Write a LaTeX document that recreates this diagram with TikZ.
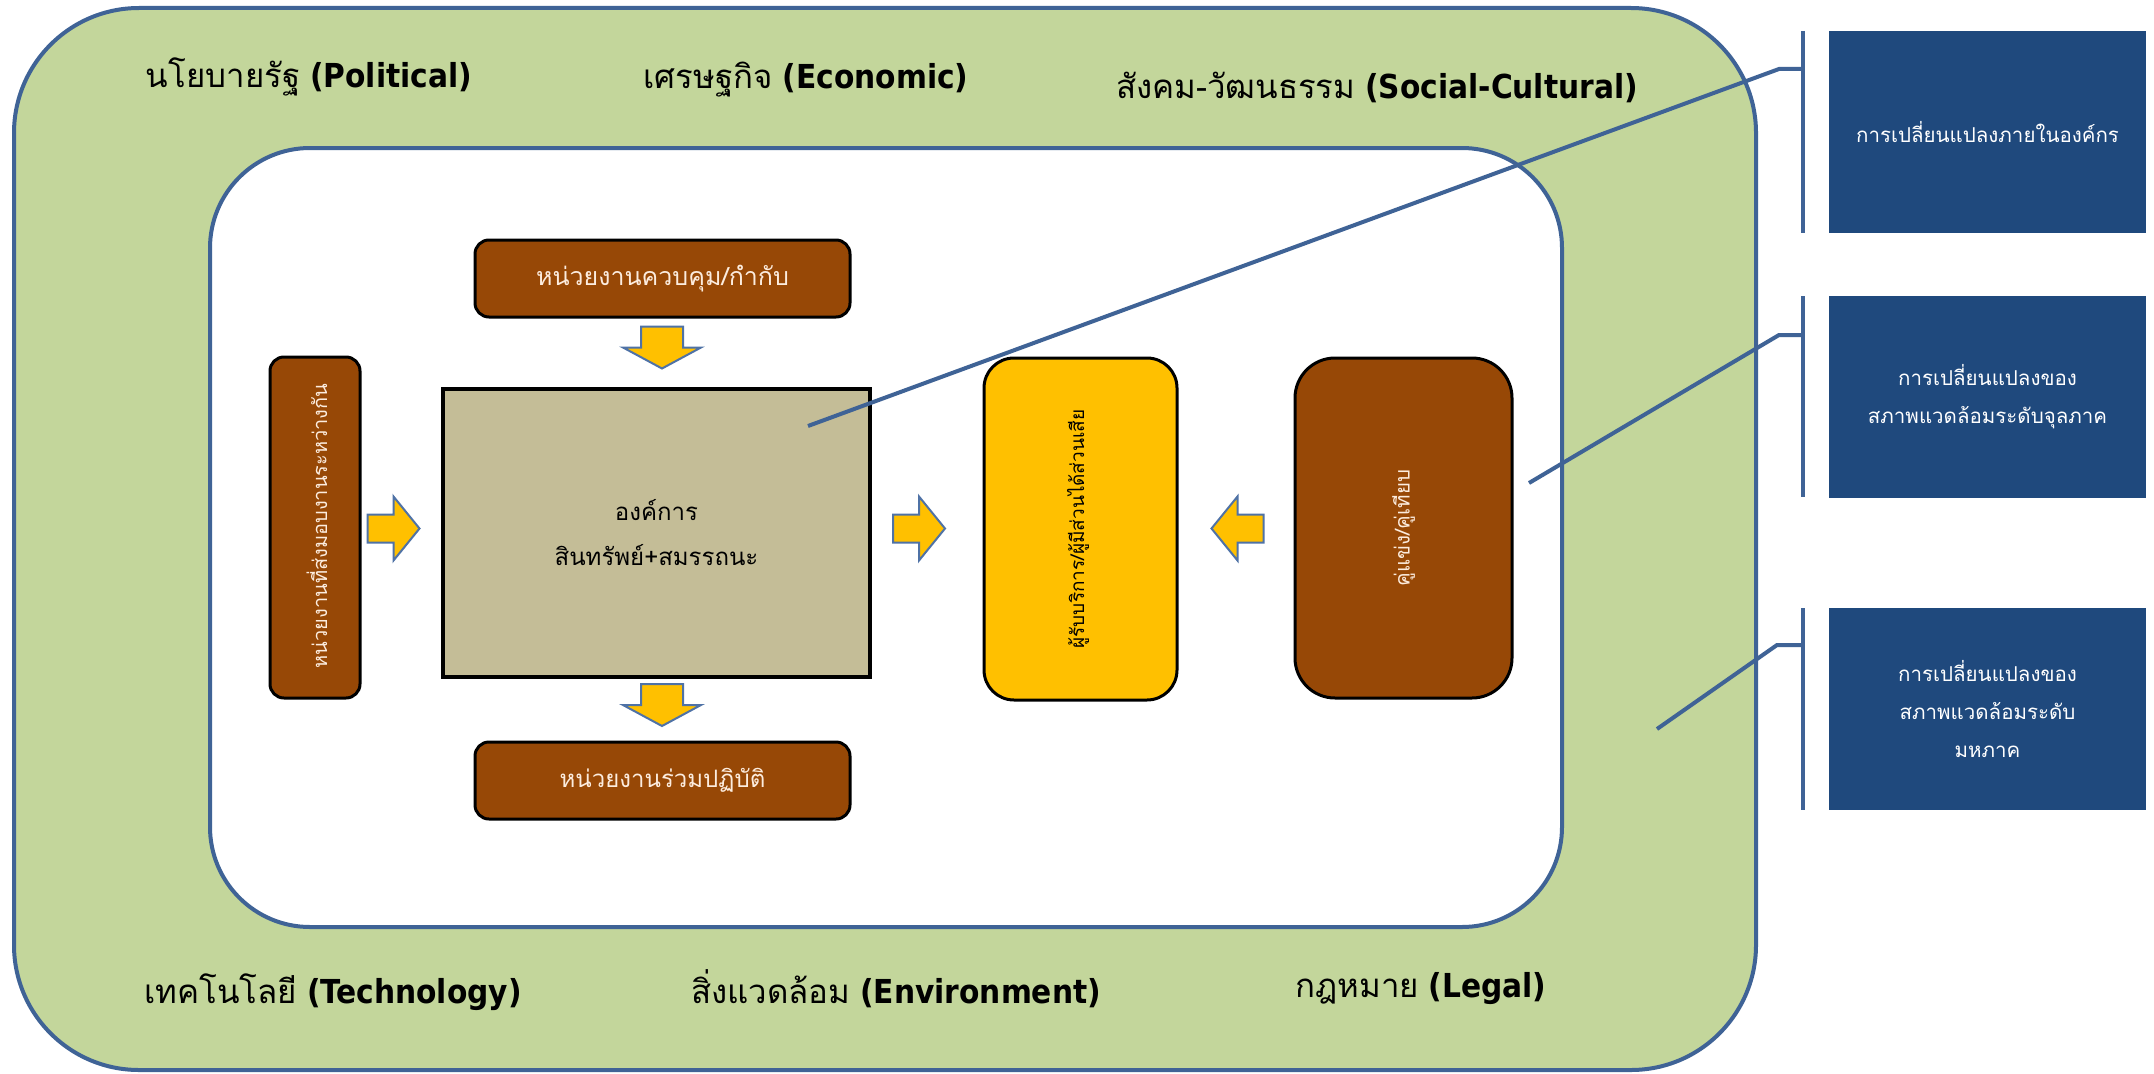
\documentclass[tikz,border=0pt]{standalone}
\usepackage{fontspec}
\newfontfamily\thai[Script=Thai]{Loma}
\newfontfamily\latbold{DejaVu Sans Condensed Bold}
\definecolor{envgreen}{HTML}{C3D69B}
\definecolor{frameblue}{HTML}{3F6396}
\definecolor{navy}{HTML}{1F497D}
\definecolor{brownbox}{HTML}{974806}
\definecolor{gold}{HTML}{FFC000}
\definecolor{tanbox}{HTML}{C4BD97}
\definecolor{arrowedge}{HTML}{4F72A6}
\definecolor{cream}{RGB}{252,236,222}
\tikzset{
  x=1pt, y=-1pt,
  every node/.style={inner sep=0pt, outer sep=0pt},
  brownstyle/.style={draw=black, line width=3pt, fill=brownbox, text=cream},
  bluebox/.style={fill=navy, text=white, minimum width=317pt, minimum height=202pt,
    align=center, font=\thai\fontsize{20.5}{38}\selectfont},
  pestlabel/.style={font=\fontsize{33}{40}\selectfont},
  connector/.style={draw=frameblue, line width=4pt},
  bracket/.style={draw=frameblue, line width=4pt},
  blockarrow/.style={draw=arrowedge, line width=2pt, fill=gold, line join=miter},
  pics/arrowright/.style={code={\draw[blockarrow] (-26,-14)--(0,-14)--(0,-32)--(26,0)--(0,32)--(0,14)--(-26,14)--cycle;}},
  pics/arrowleft/.style={code={\draw[blockarrow] (26,-14)--(0,-14)--(0,-32)--(-26,0)--(0,32)--(0,14)--(26,14)--cycle;}},
  pics/arrowdown/.style={code={\draw[blockarrow] (-21,-21)--(-21,0)--(-39,0)--(0,21)--(39,0)--(21,0)--(21,-21)--cycle;}},
}
\begin{document}
\begin{tikzpicture}
\fill[white] (0,0) rectangle (2154,1073);
\useasboundingbox (0,0) rectangle (2154,1073);

% environment layers
\node[draw=frameblue, line width=4pt, fill=envgreen, rounded corners=125pt,
      minimum width=1742pt, minimum height=1062pt] (env) at (885,539) {};
\node[draw=frameblue, line width=4pt, fill=white, rounded corners=100pt,
      minimum width=1352pt, minimum height=779pt] (inner) at (886,537.5) {};

% PESTEL labels
\node[pestlabel] (pol) at (309,77) {{\thai นโยบายรัฐ} {\latbold (Political)}};
\node[pestlabel] (eco) at (806,80) {{\thai เศรษฐกิจ} {\latbold (Economic)}};
\node[pestlabel] (soc) at (1377,87) {{\thai สังคม-วัฒนธรรม} {\latbold (Social-Cultural)}};
\node[pestlabel] (tec) at (333,992) {{\thai เทคโนโลยี} {\latbold (Technology)}};
\node[pestlabel] (evn) at (896,989) {{\thai สิ่งแวดล้อม} {\latbold (Environment)}};
\node[pestlabel] (leg) at (1421,989) {{\thai กฎหมาย} {\latbold (Legal)}};

% organisation and its surroundings
\node[draw=black, line width=4.5pt, fill=tanbox, minimum width=427pt, minimum height=288pt,
      align=center, font=\thai\fontsize{24}{45}\selectfont] (org) at (656.5,533)
      {องค์การ\\สินทรัพย์+สมรรถนะ};
\node[brownstyle, rounded corners=14pt, minimum width=375pt, minimum height=77pt,
      font=\thai\fontsize{25}{30}\selectfont] (reg) at (662.5,278.5) {หน่วยงานควบคุม/กำกับ};
\node[brownstyle, rounded corners=14pt, minimum width=375pt, minimum height=77pt,
      font=\thai\fontsize{24}{30}\selectfont] (part) at (662.5,780.5) {หน่วยงานร่วมปฏิบัติ};
\node[brownstyle, rounded corners=14pt, minimum width=90pt, minimum height=341pt] (sup) at (315,527.5) {};
\node[text=cream, rotate=90, font=\thai\fontsize{20}{24}\selectfont] (suptxt) at (317,526) {หน่วยงานที่ส่งมอบงานระหว่างกัน};
\node[draw=black, line width=3pt, fill=gold, rounded corners=30pt, minimum width=193pt, minimum height=342pt] (cust) at (1080.5,529) {};
\node[text=black, rotate=90, font=\thai\fontsize{19}{24}\selectfont] (custtxt) at (1078,529) {ผู้รับบริการ/ผู้มีส่วนได้ส่วนเสีย};
\node[brownstyle, rounded corners=40pt, minimum width=217pt, minimum height=340pt] (comp) at (1403.5,528) {};
\node[text=cream, rotate=90, font=\thai\fontsize{20.5}{24}\selectfont] (comptxt) at (comp.center) {คู่แข่ง/คู่เทียบ};

% block arrows
\pic (a1) at (662,347.5) {arrowdown};
\pic (a2) at (662,705) {arrowdown};
\pic (a3) at (393.5,528.5) {arrowright};
\pic (a4) at (919,528.5) {arrowright};
\pic (a5) at (1237.5,528.5) {arrowleft};

% callout boxes
\node[bluebox] (inside) at (1987.5,132) {การเปลี่ยนแปลงภายในองค์กร};
\node[bluebox] (micro) at (1987.5,396.5) {การเปลี่ยนแปลงของ\\สภาพแวดล้อมระดับจุลภาค};
\node[bluebox] (macro) at (1987.5,709) {การเปลี่ยนแปลงของ\\สภาพแวดล้อมระดับ\\มหภาค};

% callout brackets
\coordinate (b1t) at (1803,31);  \coordinate (b1b) at (1803,233);
\coordinate (b2t) at (1803,296); \coordinate (b2b) at (1803,497);
\coordinate (b3t) at (1803,608); \coordinate (b3b) at (1803,810);
\draw[bracket] (b1t) -- (b1b);
\draw[bracket] (b2t) -- (b2b);
\draw[bracket] (b3t) -- (b3b);

% callout leaders
\coordinate (s1) at (808,426);  \coordinate (k1) at (1779,69);  \coordinate (e1) at (1803,69);
\coordinate (s2) at (1529,483); \coordinate (k2) at (1779,335); \coordinate (e2) at (1803,335);
\coordinate (s3) at (1657,729); \coordinate (k3) at (1777,645); \coordinate (e3) at (1803,645);
\draw[connector] (s1) -- (k1) -- (e1);
\draw[connector] (s2) -- (k2) -- (e2);
\draw[connector] (s3) -- (k3) -- (e3);
\end{tikzpicture}
\end{document}
